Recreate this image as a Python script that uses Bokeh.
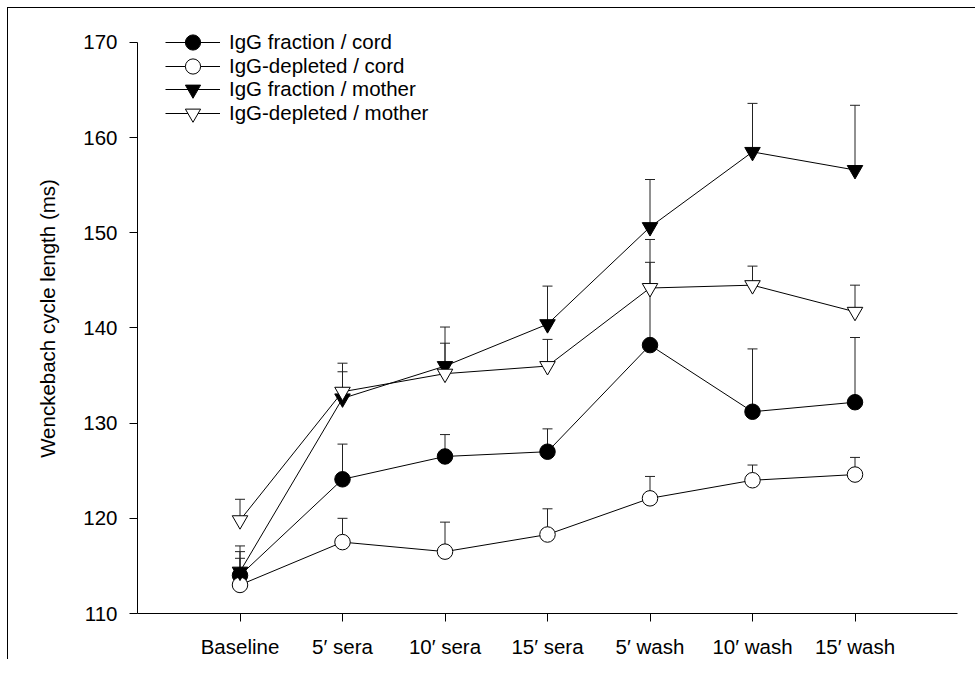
from bokeh.plotting import figure
from bokeh.models import (ColumnDataSource, Whisker, TeeHead, Legend, LegendItem,
                          FixedTicker, Range1d)
from bokeh.embed import file_html
from bokeh.resources import INLINE

categories = ["Baseline", "5\u2032 sera", "10\u2032 sera", "15\u2032 sera",
              "5\u2032 wash", "10\u2032 wash", "15\u2032 wash"]

igg_cord = [114.0, 124.1, 126.5, 127.0, 138.2, 131.2, 132.2]
igg_cord_err = [2.5, 3.7, 2.3, 2.4, 8.7, 6.6, 6.8]

dep_cord = [113.0, 117.5, 116.5, 118.3, 122.1, 124.0, 124.6]
dep_cord_err = [2.8, 2.5, 3.1, 2.7, 2.3, 1.6, 1.8]

igg_mother = [114.4, 132.6, 136.0, 140.4, 150.6, 158.5, 156.6]
igg_mother_err = [2.7, 2.8, 4.1, 4.0, 5.0, 5.1, 6.8]

dep_mother = [119.8, 133.3, 135.2, 136.0, 144.2, 144.5, 141.7]
dep_mother_err = [2.2, 3.0, 3.2, 2.8, 5.1, 2.0, 2.8]

y_ticks = [110, 120, 130, 140, 150, 160, 170]

series = [
    ("IgG fraction / cord", igg_cord, igg_cord_err, "circle", "black"),
    ("IgG-depleted / cord", dep_cord, dep_cord_err, "circle", "white"),
    ("IgG fraction / mother", igg_mother, igg_mother_err, "inverted_triangle", "black"),
    ("IgG-depleted / mother", dep_mother, dep_mother_err, "inverted_triangle", "white"),
]

FONT = "Liberation Sans"
FS = "20.5px"

# frame: 591 px tall, the 110..170 axis occupies the lower 572 px
y_end = 170 + 19 * 60 / 572

p = figure(width=968, height=652, output_backend="svg", toolbar_location=None,
           x_range=Range1d(-1, 7), y_range=Range1d(110, y_end),
           min_border_left=129, min_border_right=19, min_border_top=15,
           min_border_bottom=46)
p.styles = {"margin-left": "7px", "margin-top": "7px",
            "border-top": "1px solid black", "border-left": "1px solid black"}
p.xgrid.visible = False
p.ygrid.visible = False
p.outline_line_color = None
p.background_fill_color = "white"

xs = list(range(len(categories)))
items = []
for label, vals, errs, marker, fill in series:
    src = ColumnDataSource(dict(x=xs, y=vals, upper=[v + e for v, e in zip(vals, errs)]))
    w = Whisker(base="x", lower="y", upper="upper", source=src,
                upper_head=TeeHead(size=10, line_width=1, line_color="#222222"),
                lower_head=None, line_width=1, line_color="#222222", level="underlay")
    p.add_layout(w)
    lr = p.line("x", "y", source=src, line_color="black", line_width=1)
    sr = p.scatter("x", "y", source=src, marker=marker, size=15.5,
                   fill_color=fill, line_color="black", line_width=1)
    items.append(LegendItem(label=label, renderers=[lr, sr]))

# one legend box per entry so that the legend markers can be full size
# while the rows stay ~24 px apart
legend_rows_y = [552, 528, 505, 481]
for item, ly in zip(items, legend_rows_y):
    lg = Legend(items=[item], location=(28, ly), padding=0, margin=0, spacing=0,
                glyph_width=55, glyph_height=38, label_height=38, label_standoff=9,
                label_text_font=FONT, label_text_font_size=FS, label_text_color="black",
                border_line_color=None, background_fill_alpha=0)
    p.add_layout(lg)

xa = p.xaxis[0]
xa.ticker = FixedTicker(ticks=xs, minor_ticks=[])
xa.major_label_overrides = {i: c for i, c in enumerate(categories)}
xa.major_tick_out = 8
xa.major_tick_in = 0
xa.minor_tick_out = 0
xa.major_label_standoff = 13
xa.major_label_text_font = FONT
xa.major_label_text_font_size = FS
xa.major_label_text_color = "black"
xa.axis_line_color = "black"
xa.major_tick_line_color = "black"

ya = p.yaxis[0]
ya.ticker = FixedTicker(ticks=y_ticks, minor_ticks=[])
ya.bounds = (110, 170)
ya.major_tick_out = 8
ya.major_tick_in = 0
ya.minor_tick_out = 0
ya.major_label_standoff = 12
ya.major_label_text_font = FONT
ya.major_label_text_font_size = FS
ya.major_label_text_color = "black"
ya.axis_line_color = "black"
ya.major_tick_line_color = "black"
ya.axis_label = "Wenckebach cycle length (ms)"
ya.axis_label_text_font = FONT
ya.axis_label_text_font_size = FS
ya.axis_label_text_font_style = "normal"
ya.axis_label_text_color = "black"
ya.axis_label_standoff = 21

open("out.html", "w").write(file_html(p, INLINE))
